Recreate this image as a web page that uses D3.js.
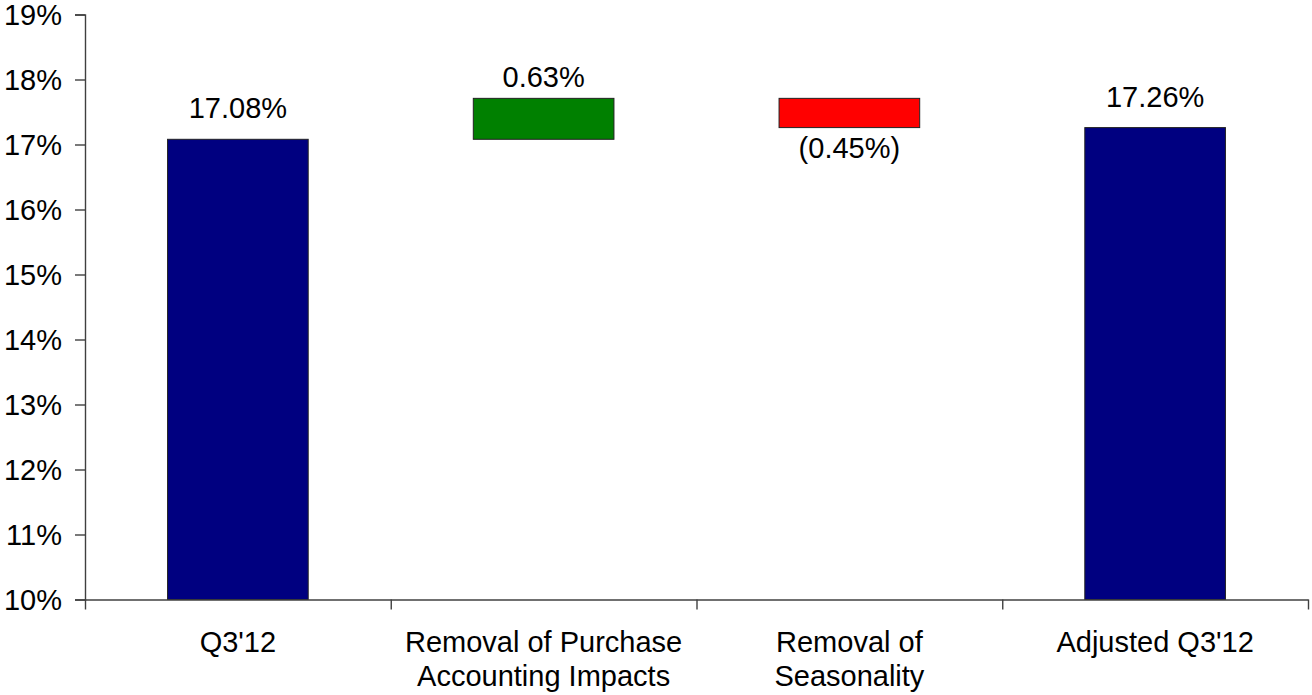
<!DOCTYPE html>
<html>
<head>
<meta charset="utf-8">
<script src="https://cdn.jsdelivr.net/npm/d3@7"></script>
<style>
  body { margin: 0; background: #fff; }
  svg { display: block; font-family: 'Liberation Sans', Arial, sans-serif; }
</style>
</head>
<body>
<div id="chart"></div>
<script>
const categories = [["Q3'12"], ["Removal of Purchase", "Accounting Impacts"], ["Removal of", "Seasonality"], ["Adjusted Q3'12"]];
const values = [17.08, 0.63, -0.45, 17.26];
const kinds = ['total', 'delta', 'delta', 'total'];
const valueLabels = ['17.08%', '0.63%', '(0.45%)', '17.26%'];
const yTicks = [10, 11, 12, 13, 14, 15, 16, 17, 18, 19];

const W = 1312, H = 695;
const plot = { left: 85, right: 1308, top: 14.5, bottom: 599.5 };

const svg = d3.select('#chart').append('svg')
    .attr('width', W)
    .attr('height', H);

const y = d3.scaleLinear().domain([10, 19]).range([plot.bottom, plot.top]);
const x = d3.scaleBand()
    .domain(d3.range(categories.length))
    .range([plot.left, plot.right])
    .paddingInner(0.54)
    .paddingOuter(0.27);
const xEdge = d3.scaleLinear().domain([0, categories.length]).range([plot.left, plot.right]);

// waterfall spans
let running = 0;
const bars = values.map((v, i) => {
    let y0, y1, color;
    if (kinds[i] === 'total') {
        y0 = 10; y1 = v; running = v; color = '#000080';
    } else {
        y0 = running; y1 = running + v; running = y1;
        color = v >= 0 ? '#008000' : '#ff0000';
    }
    return { i, y0, y1, v, color, kind: kinds[i], label: valueLabels[i] };
});

svg.append('g').selectAll('rect')
    .data(bars)
    .join('rect')
    .attr('x', d => x(d.i))
    .attr('width', x.bandwidth())
    .attr('y', d => y(Math.max(d.y0, d.y1)))
    .attr('height', d => Math.abs(y(d.y0) - y(d.y1)))
    .attr('fill', d => d.color)
    .attr('stroke', '#222')
    .attr('stroke-width', 1);

// value labels
svg.append('g').selectAll('text')
    .data(bars)
    .join('text')
    .attr('x', d => x(d.i) + x.bandwidth() / 2)
    .attr('y', d => {
        const hi = y(Math.max(d.y0, d.y1));
        const lo = y(Math.min(d.y0, d.y1));
        if (d.kind === 'total') return hi - 21;
        return d.v >= 0 ? hi - 11 : lo + 30;
    })
    .attr('text-anchor', 'middle')
    .style('font-size', '29px')
    .style('fill', '#000')
    .text(d => d.label);

// y axis
const yAxis = svg.append('g')
    .attr('transform', `translate(${plot.left},0)`)
    .call(d3.axisLeft(y).tickValues(yTicks).tickSize(10).tickPadding(13).tickFormat(d => d + '%'));
yAxis.select('.domain').attr('stroke', '#404040').attr('stroke-width', 1.4);
yAxis.selectAll('.tick line').attr('stroke', '#404040').attr('stroke-width', 1.4);
yAxis.selectAll('text')
    .attr('dy', '0.35em')
    .style('font-size', '29px')
    .style('font-family', "'Liberation Sans', Arial, sans-serif")
    .style('fill', '#000');

// x axis
const xAxis = svg.append('g')
    .attr('transform', `translate(0,${plot.bottom})`)
    .call(d3.axisBottom(xEdge).tickValues(d3.range(categories.length + 1)).tickSize(10).tickSizeOuter(0).tickFormat(''));
xAxis.select('.domain').attr('stroke', '#404040').attr('stroke-width', 1.4);
xAxis.selectAll('.tick line').attr('stroke', '#404040').attr('stroke-width', 1.4);

// category labels
const catG = svg.append('g');
categories.forEach((lines, i) => {
    const t = catG.append('text')
        .attr('x', x(i) + x.bandwidth() / 2)
        .attr('y', 652)
        .attr('text-anchor', 'middle')
        .style('font-size', '29px')
        .style('fill', '#000');
    lines.forEach((ln, k) => {
        t.append('tspan')
            .attr('x', x(i) + x.bandwidth() / 2)
            .attr('dy', k === 0 ? 0 : 33.5)
            .text(ln);
    });
});
</script>
</body>
</html>
